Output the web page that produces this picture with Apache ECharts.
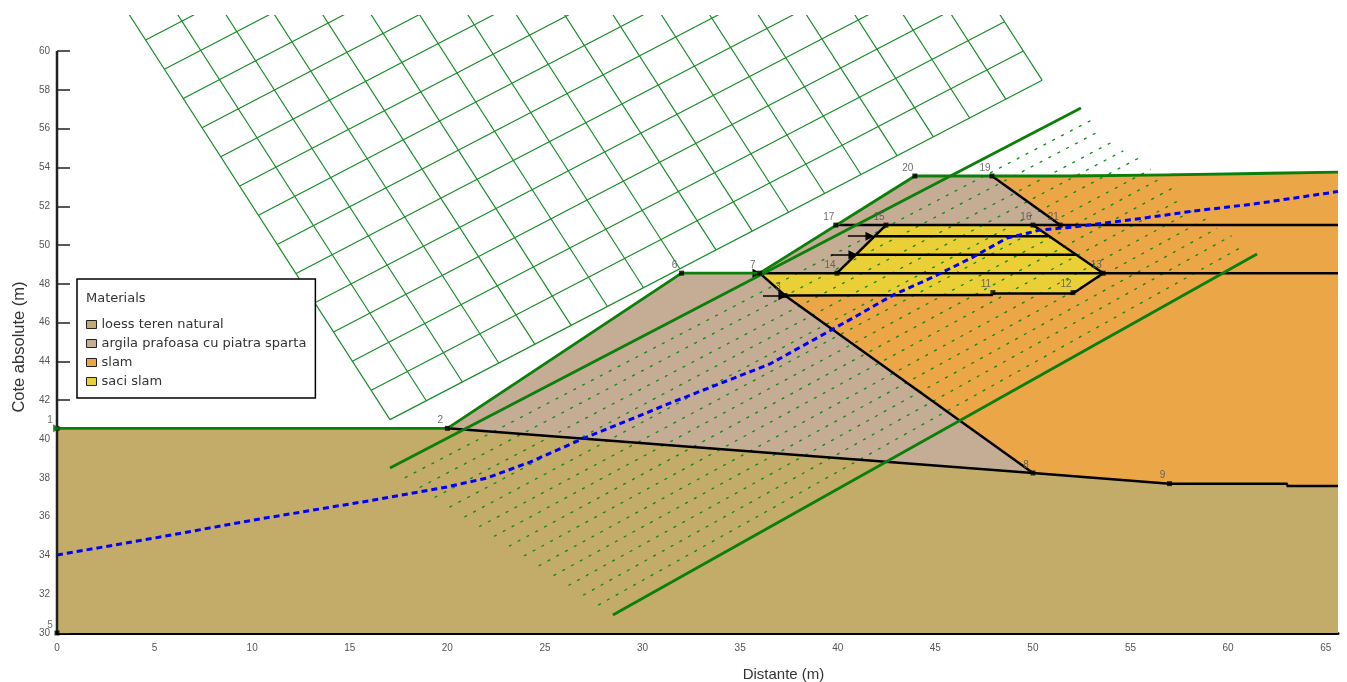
<!DOCTYPE html>
<html>
<head>
<meta charset="utf-8">
<style>html,body{margin:0;padding:0;background:#fff}#c{width:1347px;height:682px}</style>
<script src="https://cdn.jsdelivr.net/npm/echarts@6/dist/echarts.min.js"></script>
</head>
<body>
<div id="c"></div>
<script>
const xTicks = [0,5,10,15,20,25,30,35,40,45,50,55,60,65];
const yTicks = [30,32,34,36,38,40,42,44,46,48,50,52,54,56,58,60];
const materialNames = ['loess teren natural','argila prafoasa cu piatra sparta','slam','saci slam'];

const loess = [[0,30],[0,40.55],[20,40.55],[50,38.25],[57,37.7],[63,37.7],[63.05,37.58],[65.63,37.58],[65.63,30]];
const argilaLower = [[20,40.55],[32,48.55],[36,48.55],[37.3,47.4],[50,38.25]];
const argilaUpper = [[36,48.55],[39.96,48.55],[42.47,51.03],[51.4,51.03],[47.9,53.56],[43.95,53.56]];
const slam = [[37.3,47.4],[47.95,47.5],[52.05,47.5],[53.6,48.55],[50,51.03],[51.4,51.03],[47.9,53.56],[52,53.56],[52.05,53.62],[57,53.62],[57.05,53.69],[61.4,53.69],[61.45,53.76],[65.63,53.76],[65.63,37.58],[63.05,37.58],[63,37.7],[57,37.7],[50,38.25]];
const saci = [[36,48.55],[37.3,47.4],[47.95,47.5],[52.05,47.5],[53.6,48.55],[50,51.03],[42.47,51.03],[39.96,48.55]];

const ground = [[0,40.55],[20,40.55],[32,48.55],[36,48.55],[43.95,53.56],[47.9,53.56],[52,53.56],[52.05,53.62],[57,53.62],[57.05,53.69],[61.4,53.69],[61.45,53.76],[65.63,53.76]];
const bedrockTop = [[20,40.55],[50,38.25],[57,37.7],[63,37.7],[63.05,37.58],[65.63,37.58]];
const phreatic = [[0,34.02],[5.02,34.9],[10.04,35.82],[16.55,36.91],[19.98,37.53],[22.03,37.99],[24.23,38.81],[26.79,39.95],[31.56,41.91],[36.53,43.87],[40.78,46.24],[42.83,47.42],[44.88,48.35],[46.93,49.38],[48.67,50.36],[50.36,50.77],[52.05,50.93],[55.33,51.34],[58.2,51.75],[61.27,52.11],[65.45,52.73],[65.63,52.76]];

const blackSegments = [
  [36,48.55,37.3,47.4],[37.3,47.4,50,38.25],[37.3,47.4,47.95,47.42],[47.95,47.5,52.05,47.5],
  [52.05,47.5,53.6,48.55],[53.6,48.55,50,51.03],[47.9,53.56,51.4,51.03],
  [36,48.55,65.63,48.55],[39.9,51.03,65.63,51.03],[39.96,48.55,42.47,51.03],
  [41.92,50.46,50.79,50.46],[40.93,49.5,52.2,49.5]
];
const arrows = [
  [35.0,48.55,35.86,48.55],[36.17,47.39,37.19,47.39],[39.65,49.5,40.78,49.5],[40.52,50.46,41.65,50.46]
];

const slipStartX = [17.06,17.82,18.58,19.35,20.11,20.87,21.63,22.39,23.15,23.92,24.68,25.44,26.2,26.96,27.73,28.48];
const slipStartY = [38.51,38,37.5,36.99,36.49,35.98,35.48,34.98,34.47,33.97,33.46,32.96,32.45,31.95,31.44,30.93];
const slipEndX = [52.46,53,53.52,54.25,54.63,55.39,56.03,56.47,57.22,57.58,58.3,58.98,59.44,60.18,60.82,61.48];
const slipEndY = [57.06,56.44,55.93,55.41,54.86,54.47,53.9,53.39,52.97,52.36,51.84,51.41,50.86,50.48,49.97,49.54];

const meshColA = [[17.06,41],[18.92,41.97],[20.77,42.94],[22.63,43.92],[24.48,44.89],[26.34,45.86],[28.2,46.83],[30.05,47.8],[31.91,48.78],[33.76,49.75],[35.62,50.72],[37.48,51.69],[39.33,52.66],[41.19,53.64],[43.04,54.61],[44.9,55.58],[46.76,56.55],[48.61,57.52],[50.47,58.5]];
const meshColB = [[3.58,62.07],[5.44,63.04],[7.29,64.01],[9.15,64.99],[11,65.96],[12.86,66.93],[14.72,67.9],[16.57,68.87],[18.43,69.85],[20.28,70.82],[22.14,71.79],[24,72.76],[25.85,73.73],[27.71,74.71],[29.56,75.68],[31.42,76.65],[33.28,77.62],[35.13,78.59],[36.99,79.57]];
const meshRowA = [[17.06,41],[16.1,42.51],[15.13,44.01],[14.17,45.52],[13.21,47.02],[12.25,48.53],[11.28,50.03],[10.32,51.54],[9.36,53.04],[8.39,54.55],[7.43,56.05],[6.47,57.56],[5.5,59.06],[4.54,60.57],[3.58,62.07]];
const meshRowB = [[50.47,58.5],[49.51,60.01],[48.54,61.51],[47.58,63.02],[46.62,64.52],[45.66,66.03],[44.69,67.53],[43.73,69.04],[42.77,70.54],[41.8,72.05],[40.84,73.55],[39.88,75.06],[38.91,76.56],[37.95,78.07],[36.99,79.57]];

const nodeNames = ['1','2','3','5','6','7','8','9','11','12','13','14','15','16','17','19','20','21'];
const nodeX = [0,20,37.3,0,32,36,50,57,47.95,52.05,53.6,39.96,42.47,50,39.9,47.9,43.95,51.4];
const nodeY = [40.55,40.55,47.4,30,48.55,48.55,38.25,37.7,47.55,47.55,48.55,48.55,51.03,51.03,51.03,53.56,53.56,51.03];

const colors = {loess:'#C3AB69', argila:'#C5AC95', slam:'#EBA648', saci:'#EAD036'};
const GREEN = '#0a7f0a';

function polygon(name, poly, color){
  return {type:'custom', name, silent:true, clip:true, z:1, itemStyle:{color},
    data:[[poly[0][0],poly[0][1]]],
    renderItem:(p,api)=>({type:'polygon', shape:{points:poly.map(q=>api.coord(q))}, style:{fill:color, stroke:color, lineWidth:0.5}})};
}
function segments(name, rows, style, z, clip){
  return {type:'custom', name, silent:true, clip, z, data:rows,
    renderItem:(p,api)=>{
      const a=api.coord([api.value(0),api.value(1)]), b=api.coord([api.value(2),api.value(3)]);
      return {type:'line', shape:{x1:a[0],y1:a[1],x2:b[0],y2:b[1]}, style};
    }};
}
function polyline(name, pts, color, width, type, z){
  return {type:'line', name, silent:true, data:pts, symbol:'none', z, clip:true,
    lineStyle:{color, width, type, cap:'butt', join:'miter'}};
}

const meshRows = meshColA.map((a,i)=>[a[0],a[1],meshColB[i][0],meshColB[i][1]])
  .concat(meshRowA.map((a,i)=>[a[0],a[1],meshRowB[i][0],meshRowB[i][1]]));
const slipRows = slipStartX.map((x,i)=>[x,slipStartY[i],slipEndX[i],slipEndY[i]]);
const slipThin = slipRows.slice(1,-1);
const slipThick = [slipRows[0], slipRows[slipRows.length-1]];

const chart = echarts.init(document.getElementById('c'), null, {renderer:'canvas'});
chart.setOption({
  animation:false,
  backgroundColor:'#fff',
  grid:{left:57,right:9,top:15,bottom:49,containLabel:false,outerBoundsMode:'none'},
  xAxis:{type:'value',min:0,max:65.63,
    name:'Distante (m)',nameLocation:'middle',nameGap:34,
    nameTextStyle:{fontFamily:'Liberation Sans',fontSize:15,color:'#333',padding:[0,0,0,172]},
    splitLine:{show:false},
    axisLine:{show:true,onZero:false,lineStyle:{color:'#000',width:3}},
    axisTick:{show:true,inside:true,length:13,lineStyle:{color:'#222',width:1.5},customValues:xTicks},
    axisLabel:{fontFamily:'Liberation Sans',fontSize:10,color:'#555',margin:10,customValues:xTicks}},
  yAxis:{type:'value',min:30,max:61.86,
    name:'Cote absolute (m)',nameLocation:'middle',nameGap:29,
    nameTextStyle:{fontFamily:'Liberation Sans',fontSize:16.5,color:'#333',padding:[0,46,0,0]},
    splitLine:{show:false},
    axisLine:{show:false},
    axisTick:{show:true,inside:true,length:13,lineStyle:{color:'#222',width:1.5},customValues:yTicks},
    axisLabel:{fontFamily:'Liberation Sans',fontSize:10,color:'#555',margin:7,customValues:yTicks}},
  legend:{
    orient:'vertical',left:77,top:279,
    padding:[39,9,10,9],itemWidth:10,itemHeight:8,itemGap:6,
    backgroundColor:'#fff',borderColor:'#000',borderWidth:1.5,z:50,
    textStyle:{fontFamily:'DejaVu Sans',fontSize:13,color:'#333'},
    selectedMode:false,
    data:[
      {name:materialNames[0],icon:'rect',itemStyle:{color:colors.loess,borderColor:'#222',borderWidth:1}},
      {name:materialNames[1],icon:'rect',itemStyle:{color:colors.argila,borderColor:'#222',borderWidth:1}},
      {name:materialNames[2],icon:'rect',itemStyle:{color:colors.slam,borderColor:'#222',borderWidth:1}},
      {name:materialNames[3],icon:'rect',itemStyle:{color:colors.saci,borderColor:'#222',borderWidth:1}}
    ]},
  graphic:[{type:'text',left:86,top:292,z:100,zlevel:1,
    style:{text:'Materials',font:'13px "DejaVu Sans"',fill:'#333'}}],
  series:[
    polygon(materialNames[0],loess,colors.loess),
    polygon(materialNames[1],argilaLower,colors.argila),
    polygon('argila upper',argilaUpper,colors.argila),
    polygon(materialNames[2],slam,colors.slam),
    polygon(materialNames[3],saci,colors.saci),
    segments('centre grid',meshRows,{stroke:'#158c25',lineWidth:1.15,fill:null},2,true),
    segments('slip lines',slipThin,{stroke:'#0e8a1a',lineWidth:1.3,lineDash:[3,7],fill:null},3,true),
    polyline('base',bedrockTop,'#000',2.5,'solid',4),
    segments('boundaries',blackSegments,{stroke:'#000',lineWidth:2.5,fill:null},4,true),
    {type:'lines',name:'arrows',coordinateSystem:'cartesian2d',silent:true,z:5,
      symbol:['none','triangle'],symbolSize:9,
      lineStyle:{color:'#000',width:1.5,opacity:1,curveness:0},
      data:arrows.map(a=>({coords:[[a[0],a[1]],[a[2],a[3]]]}))},
    segments('slip limits',slipThick,{stroke:GREEN,lineWidth:2.8,fill:null},6,true),
    polyline('ground',ground,GREEN,2.8,'solid',6),
    polyline('phreatic',phreatic,'#0000ff',3,[6,4],7),
    segments('y axis line',[[0,30,0,60]],{stroke:'#222',lineWidth:2.5,fill:null},8,false),
    {type:'scatter',name:'nodes',silent:true,clip:false,z:9,symbol:'rect',symbolSize:5,
      itemStyle:{color:'#000'},
      data:nodeNames.map((n,i)=>({name:n,value:[nodeX[i],nodeY[i]]})),
      label:{show:true,formatter:'{b}',position:[-4.5,-5.5],align:'center',verticalAlign:'middle',fontFamily:'Liberation Sans',fontSize:10,color:'#555',opacity:0.85}},
    {type:'scatter',name:'entry',silent:true,clip:false,z:10,symbol:'triangle',symbolRotate:-90,symbolSize:8,
      itemStyle:{color:GREEN},data:[[nodeX[0],nodeY[0]]]}
  ]
});
</script>
</body>
</html>
